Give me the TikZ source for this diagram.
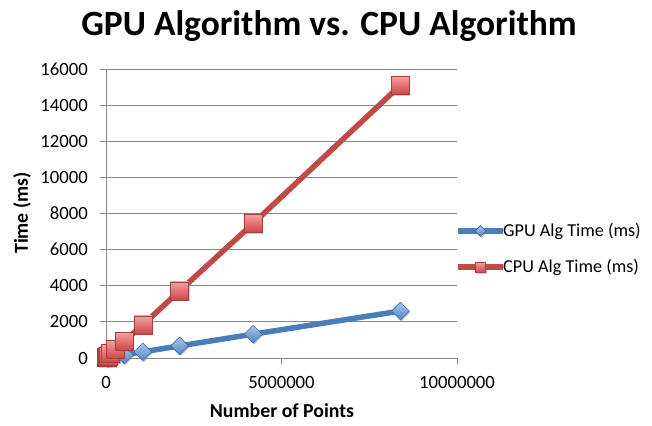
\documentclass[tikz,border=0pt]{standalone}
\usepackage{fontspec}
\setmainfont{Carlito}
\usetikzlibrary{shapes.geometric,shadows}
\definecolor{gpublue}{RGB}{74,126,187}
\definecolor{cpured}{RGB}{190,75,72}
\definecolor{gridgray}{RGB}{134,134,134}
\begin{document}
\begin{tikzpicture}[x=1pt,y=-1pt,
  gridline/.style={draw=gridgray, line width=0.9pt},
  ticklabel/.style={font=\fontsize{18.7}{20}\selectfont, inner sep=0pt},
  axistitle/.style={font=\fontsize{19.8}{22}\selectfont\bfseries, inner sep=0pt},
  gpuline/.style={draw=gpublue, line width=5.5pt, line join=round},
  cpuline/.style={draw=cpured, line width=5.5pt, line join=round},
  gpudot/.style={diamond, minimum size=18pt, inner sep=0pt, draw=gpublue!85!black, line width=0.6pt,
    top color={rgb,255:red,170;green,200;blue,240}, bottom color={rgb,255:red,80;green,130;blue,200},
    drop shadow={shadow xshift=1pt, shadow yshift=-1.5pt, opacity=0.4}},
  cpudot/.style={rectangle, minimum size=18pt, inner sep=0pt, draw=cpured!85!black, line width=0.6pt,
    top color={rgb,255:red,245;green,160;blue,160}, bottom color={rgb,255:red,205;green,70;blue,70},
    drop shadow={shadow xshift=1pt, shadow yshift=-1.5pt, opacity=0.4}}]
\useasboundingbox (0,0) rectangle (652,425);
%
\node (title) at (329,26) {\fontsize{35.5}{40}\selectfont\bfseries GPU Algorithm vs. CPU Algorithm};
%
\foreach \t [count=\k from 0] in {0,2000,4000,6000,8000,10000,12000,14000,16000}{
  \pgfmathsetmacro\yy{358-36.125*\k}
  \draw[gridline] (100,\yy) -- (457,\yy);
  \node[ticklabel, anchor=east] (ytick\k) at (88,\yy) {\t};
}
\draw[gridline] (106,69) -- (106,358);
\foreach \n/\xx [count=\k] in {0/106,5000000/281.5,10000000/457}{
  \draw[gridline] (\xx,358) -- (\xx,364);
  \node[ticklabel, anchor=north] (xtick\k) at (\xx,376) {\n};
}
%
\node[axistitle, rotate=90] (ylab) at (22,213) {Time (ms)};
\node[axistitle] (xlab) at (282,411) {Number of Points};
%
% points: millions of points / cpu time (s) / gpu time (s)
\foreach \m/\c/\g [count=\i] in {0.016384/0.03/0.005, 0.032768/0.06/0.01, 0.065536/0.12/0.02,
    0.131072/0.24/0.04, 0.262144/0.47/0.08, 0.524288/0.94/0.17, 1.048576/1.83/0.34,
    2.097152/3.72/0.67, 4.194304/7.45/1.32, 8.388608/15.10/2.60}{
  \coordinate (g\i) at ({106+35.1*\m},{358-18.0625*\g});
  \coordinate (c\i) at ({106+35.1*\m},{358-18.0625*\c});
}
%
\draw[gpuline] (g1) \foreach \i in {2,...,10}{ -- (g\i)};
\foreach \i in {1,...,10}{ \node[gpudot] (gd\i) at (g\i) {}; }
%
\draw[cpuline] (c1) \foreach \i in {2,...,10}{ -- (c\i)};
\foreach \i in {1,...,10}{ \node[cpudot] (cd\i) at (c\i) {}; }
%
\coordinate (gleg0) at (458,231);
\coordinate (gleg1) at (503,231);
\draw[gpuline] (gleg0) -- (gleg1) node[pos=0.5, gpudot, minimum size=11pt] (gpukey) {};
\node[ticklabel, font=\fontsize{18.2}{20}\selectfont, anchor=west] (gpuname) at (gleg1) {GPU Alg Time (ms)};
%
\coordinate (cleg0) at (458,267);
\coordinate (cleg1) at (503,267);
\draw[cpuline] (cleg0) -- (cleg1) node[pos=0.5, cpudot, minimum size=10pt] (cpukey) {};
\node[ticklabel, font=\fontsize{18.2}{20}\selectfont, anchor=west] (cpuname) at (cleg1) {CPU Alg Time (ms)};
\end{tikzpicture}
\end{document}
